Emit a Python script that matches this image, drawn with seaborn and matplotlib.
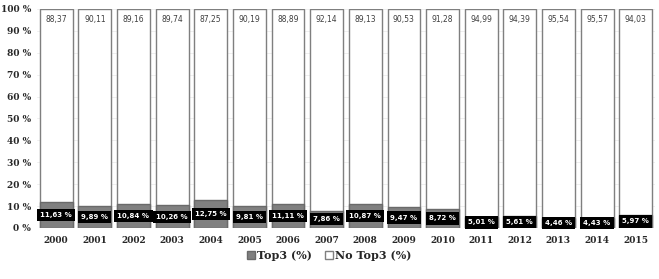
import pandas as pd
import seaborn as sns
import matplotlib.pyplot as plt
from matplotlib.patches import Patch

# Data
years = [str(y) for y in range(2000, 2016)]
top3 = [11.63, 9.89, 10.84, 10.26, 12.75, 9.81, 11.11, 7.86,
        10.87, 9.47, 8.72, 5.01, 5.61, 4.46, 4.43, 5.97]
no_top3 = [88.37, 90.11, 89.16, 89.74, 87.25, 90.19, 88.89, 92.14,
           89.13, 90.53, 91.28, 94.99, 94.39, 95.54, 95.57, 94.03]

df = pd.DataFrame({"year": years, "top3": top3, "no_top3": no_top3})
df["total"] = df["top3"] + df["no_top3"]

sns.set_style("white")
plt.rcParams["font.family"] = ["DejaVu Serif"]

fig = plt.figure(figsize=(6.59, 2.79), dpi=100)
ax = fig.add_axes([0.056, 0.183, 0.938, 0.785])

# faint gridlines
for v in range(10, 101, 10):
    ax.axhline(v, color="#ececec", lw=0.6, zorder=0)

# full bar (No Top3 stacked on Top3)
sns.barplot(data=df, x="year", y="total", color="white", edgecolor="#7f7f7f",
            linewidth=1.0, width=0.85, saturation=1, ax=ax, zorder=2)
sns.barplot(data=df, x="year", y="top3", color="#808080", edgecolor="#6a6a6a",
            linewidth=1.0, width=0.85, saturation=1, ax=ax, zorder=3)

tot_c, top_c = ax.containers[0], ax.containers[1]

ax.bar_label(tot_c, labels=[f"{v:.2f}".replace(".", ",") for v in no_top3],
             padding=-11, fontsize=5.5, color="#404040", family="DejaVu Sans")
ax.bar_label(top_c, labels=[f"{v:.2f} %".replace(".", ",") for v in top3],
             label_type="center", fontsize=5, color="white", fontweight="bold",
             family="DejaVu Sans",
             bbox=dict(boxstyle="square,pad=0.45", fc="black", ec="none"))

ax.set_ylim(0, 100)
ax.set_xlim(-0.5, len(years) - 0.5)
ax.set_yticks(range(0, 101, 10))
ax.set_yticklabels([f"{v} %" for v in range(0, 101, 10)])
ax.tick_params(axis="both", length=0, labelsize=6.5, pad=4)
ax.tick_params(axis="x", pad=6)
for lbl in ax.get_xticklabels() + ax.get_yticklabels():
    lbl.set_fontweight("bold")
ax.set_xlabel("")
ax.set_ylabel("")
sns.despine(ax=ax, left=True, bottom=True)

handles = [Patch(facecolor="#808080", edgecolor="#6a6a6a", label="Top3 (%)"),
           Patch(facecolor="white", edgecolor="#7f7f7f", label="No Top3 (%)")]
fig.legend(handles=handles, loc="center", bbox_to_anchor=(0.5, 0.085), ncol=2,
           frameon=False, prop={"weight": "bold", "size": 8},
           handlelength=0.7, handleheight=0.7, handletextpad=0.2, columnspacing=1.2)

fig.savefig("out.png", dpi=100)
